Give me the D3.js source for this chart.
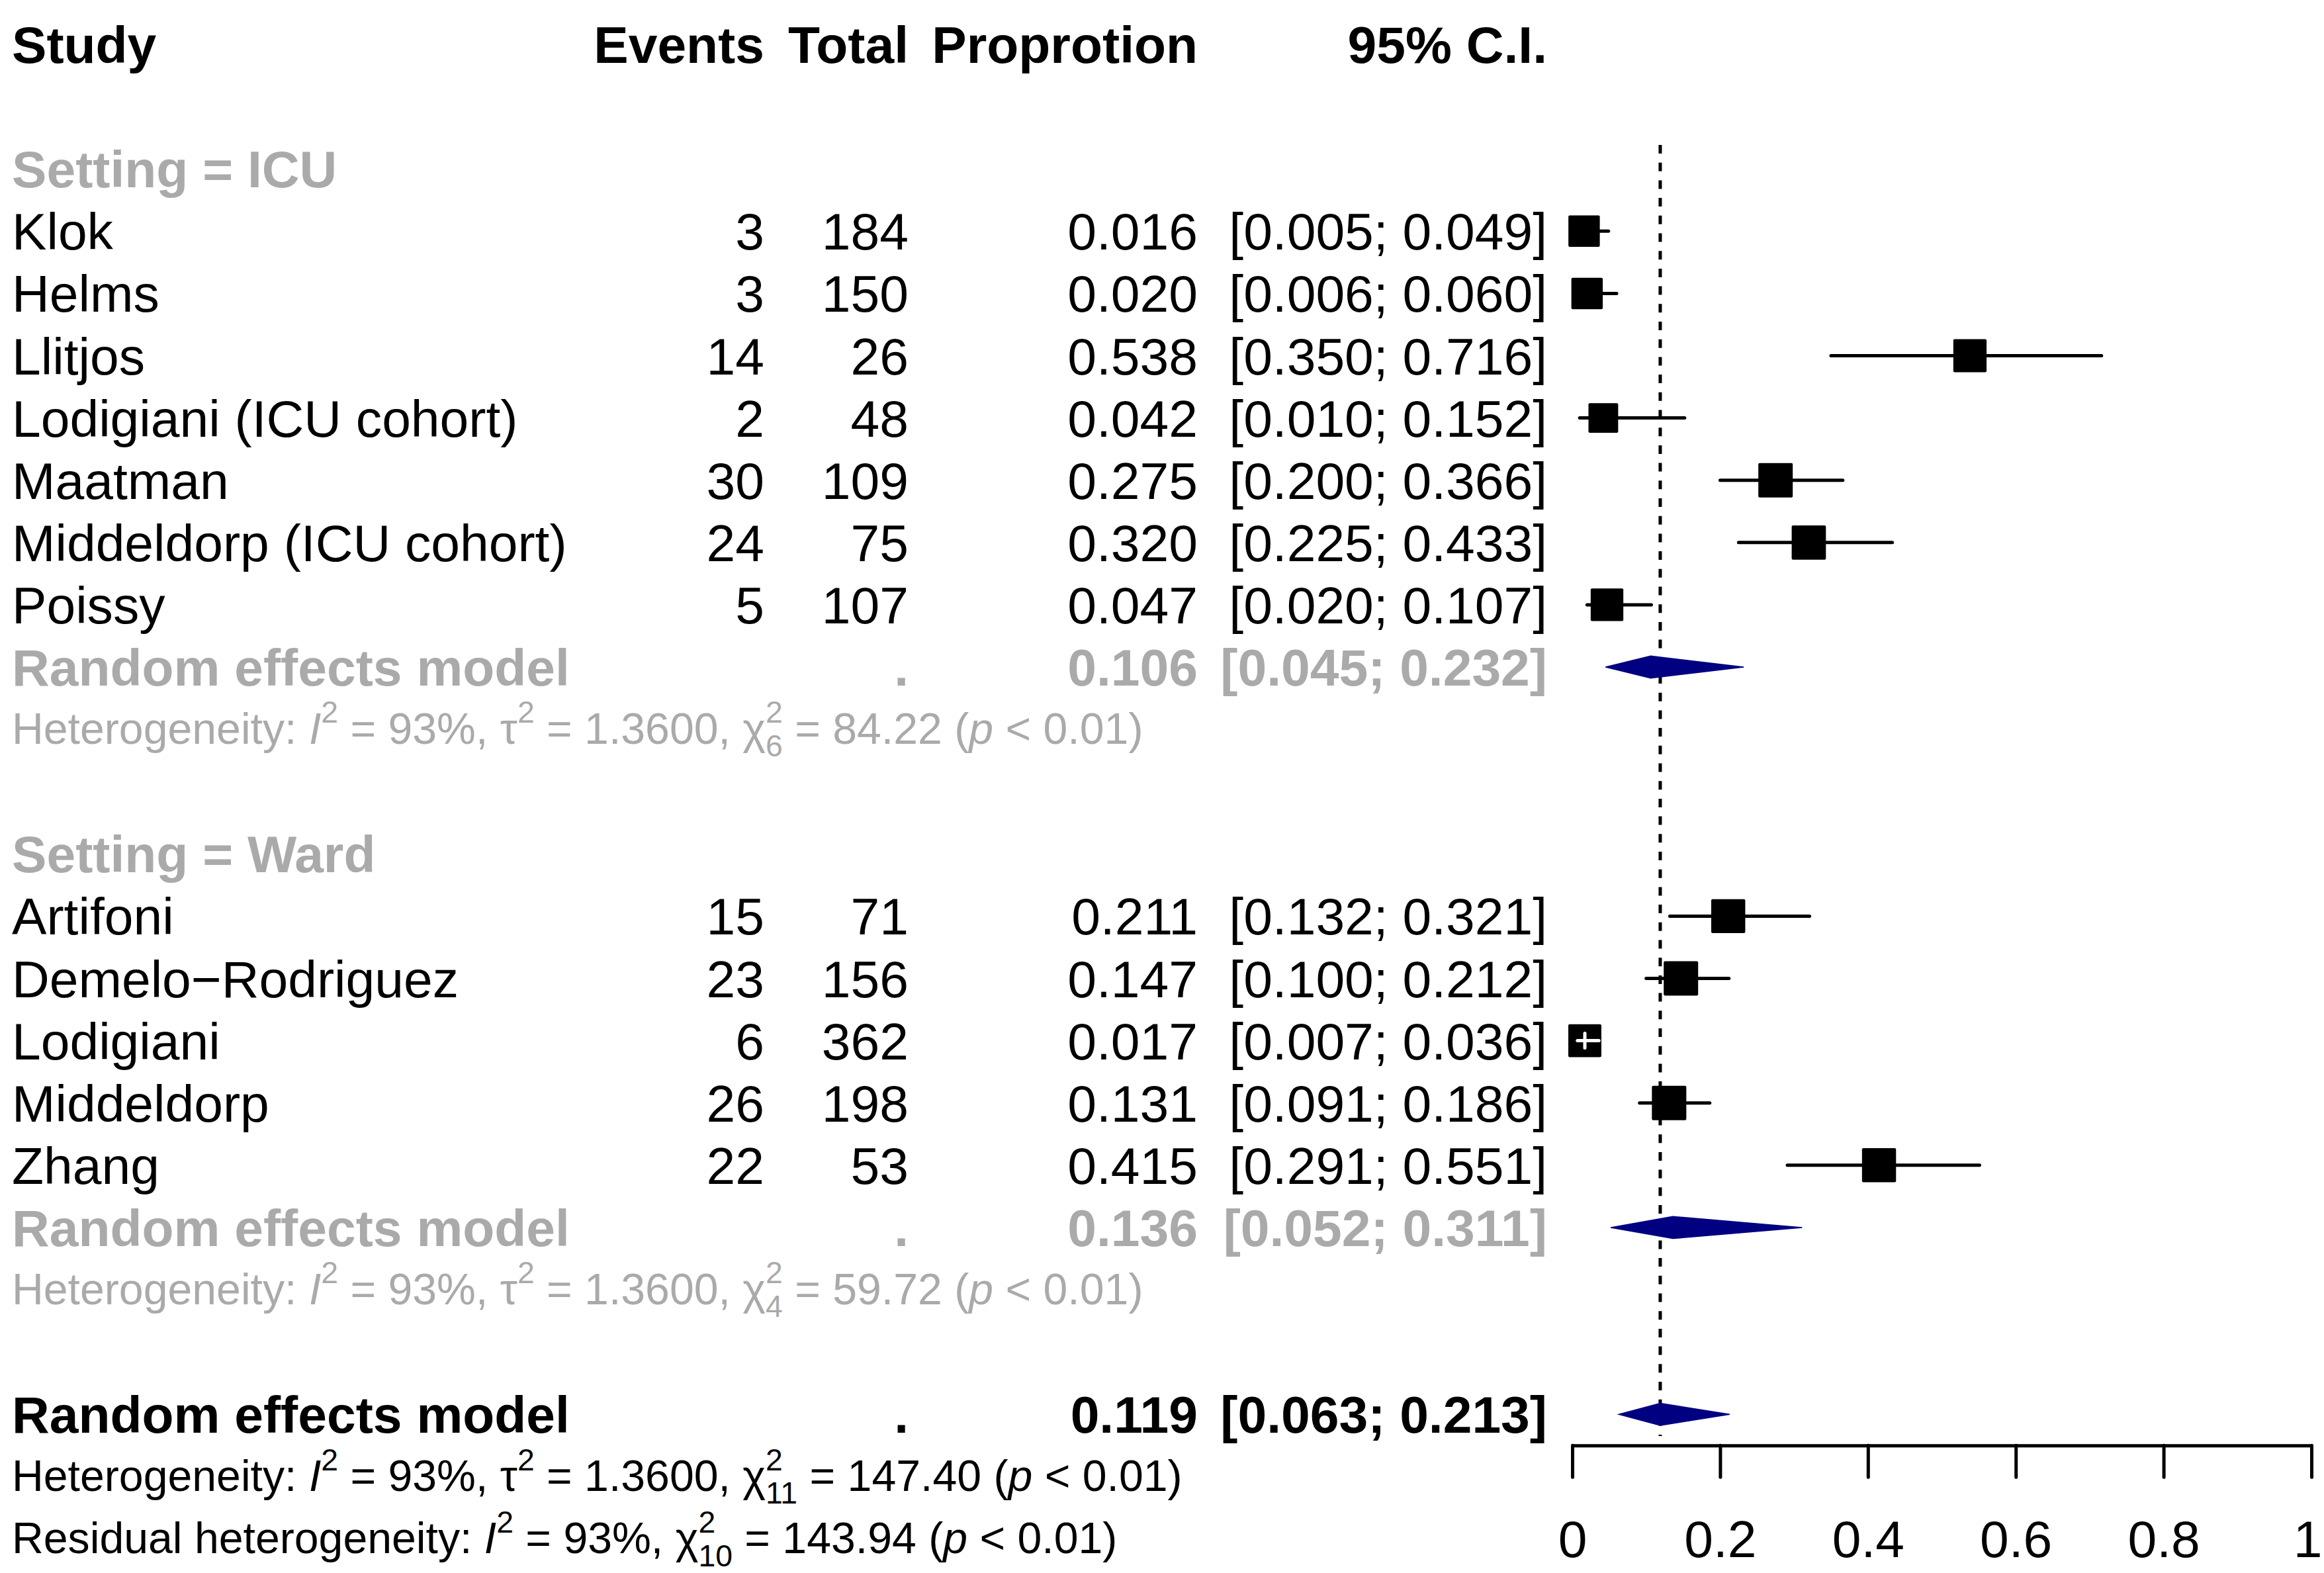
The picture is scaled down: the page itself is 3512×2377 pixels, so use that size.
<!DOCTYPE html>
<html>
<head>
<meta charset="utf-8">
<script src="https://cdn.jsdelivr.net/npm/d3@7"></script>
<style>
  body { margin: 0; background: #fff; }
  svg { display: block; }
  text { font-family: 'Liberation Sans', Arial, Helvetica, sans-serif; white-space: pre; }
</style>
</head>
<body>
<svg id="forest"></svg>
<script>
const width = 3512;
const height = 2377;

// Column headers (typo kept from the original figure).
const headers = ['Study', 'Events', 'Total', 'Proprotion', '95% C.I.'];

// Individual studies
const studies = ['Klok', 'Helms', 'Llitjos', 'Lodigiani (ICU cohort)', 'Maatman', 'Middeldorp (ICU cohort)', 'Poissy',
  'Artifoni', 'Demelo\u2212Rodriguez', 'Lodigiani', 'Middeldorp', 'Zhang'];
const settings = ['ICU', 'ICU', 'ICU', 'ICU', 'ICU', 'ICU', 'ICU', 'Ward', 'Ward', 'Ward', 'Ward', 'Ward'];
const events = [3, 3, 14, 2, 30, 24, 5, 15, 23, 6, 26, 22];
const totals = [184, 150, 26, 48, 109, 75, 107, 71, 156, 362, 198, 53];
const proportions = [0.016, 0.020, 0.538, 0.042, 0.275, 0.320, 0.047, 0.211, 0.147, 0.017, 0.131, 0.415];
const lowers = [0.005, 0.006, 0.350, 0.010, 0.200, 0.225, 0.020, 0.132, 0.100, 0.007, 0.091, 0.291];
const uppers = [0.049, 0.060, 0.716, 0.152, 0.366, 0.433, 0.107, 0.321, 0.212, 0.036, 0.186, 0.551];
// Random effects weights (%), estimated from the square sizes.
const weights = [7.5, 7.5, 8.4, 6.7, 9.0, 8.9, 8.1, 8.8, 9.0, 8.3, 9.0, 8.8];

// Subgroups
const groups = ['ICU', 'Ward'];
const groupEst = [0.106, 0.136];
const groupLower = [0.045, 0.052];
const groupUpper = [0.232, 0.311];
const groupI2 = [93, 93];
const groupTau2 = ['1.3600', '1.3600'];
const groupDf = [6, 4];
const groupQ = ['84.22', '59.72'];

// Overall
const overallCI = [0.119, 0.063, 0.213];
const overallHet = [93, '1.3600', 11, '147.40'];
const residualHet = [93, 10, '143.94'];

const axisTicks = [0, 0.2, 0.4, 0.6, 0.8, 1];

const fontMain = 78.6;
const fontHet = 66.2;
const gray = '#aaaaaa';
const navy = '#000080';
const col = { study: 18, events: 1155, total: 1373, prop: 1810, ci: 2338 };
const f3 = d3.format('.3f');

const y = d3.scaleLinear().domain([0, 24]).range([67, 2325.4]);
const x = d3.scaleLinear().domain([0, 1]).range([2376, 3493]);
const size = d3.scaleSqrt().domain([0, d3.max(weights)]).range([0, 52]);

// Plain text in a column
function label(g, text, xPos, row, anchor, color, bold) {
  return g.append('text')
    .attr('x', xPos)
    .attr('y', y(row) + 28)
    .attr('text-anchor', anchor)
    .attr('font-size', fontMain)
    .attr('font-weight', bold ? 'bold' : 'normal')
    .attr('fill', color)
    .text(text);
}

// Plotmath-like line: [text, kind, text2]
function rich(g, xPos, row, segs, color) {
  const base = y(row) + 22;
  const t = g.append('g').attr('fill', color);
  let cx = xPos;
  segs.forEach(([s, kind, s2]) => {
    if (kind === 'supsub') {
      const a = t.append('text').attr('x', cx).attr('y', base - fontHet * 0.48)
        .attr('font-size', fontHet * 0.7).text(s);
      const b = t.append('text').attr('x', cx).attr('y', base + fontHet * 0.29)
        .attr('font-size', fontHet * 0.7).text(s2);
      cx += Math.max(a.node().getComputedTextLength(), b.node().getComputedTextLength());
    } else {
      const el = t.append('text').attr('x', cx).attr('font-size', fontHet).text(s);
      if (kind === 'sup') {
        el.attr('y', base - fontHet * 0.48).attr('font-size', fontHet * 0.7);
      } else {
        el.attr('y', base);
      }
      if (kind === 'i') el.attr('font-style', 'italic');
      cx += el.node().getComputedTextLength();
    }
  });
}

function hetSegs(prefix, i2, tau2, df, q) {
  const segs = [[prefix + ': ', 'n'], ['I', 'i'], ['2', 'sup'], [` = ${i2}%, `, 'n']];
  if (tau2 !== null) segs.push(['\u03c4', 'n'], ['2', 'sup'], [` = ${tau2}, `, 'n']);
  segs.push(['\u03c7', 'n'], ['2', 'supsub', String(df)], [` = ${q} (`, 'n'], ['p', 'i'], [' < 0.01)', 'n']);
  return segs;
}

const svg = d3.select('#forest').attr('width', width).attr('height', height);
svg.append('rect').attr('width', width).attr('height', height).attr('fill', '#fff');

const gText = svg.append('g');
const gPlot = svg.append('g');

// Header
label(gText, headers[0], col.study, 0, 'start', '#000', true);
label(gText, headers[1], col.events, 0, 'end', '#000', true);
label(gText, headers[2], col.total, 0, 'end', '#000', true);
label(gText, headers[3], col.prop, 0, 'end', '#000', true);
label(gText, headers[4], col.ci, 0, 'end', '#000', true);

// Build row layout
const studyRows = [];
const summaryRows = [];
let row = 2;
groups.forEach((g, gi) => {
  label(gText, `Setting = ${g}`, col.study, row, 'start', gray, true);
  row++;
  studies.forEach((s, i) => {
    if (settings[i] === g) {
      studyRows.push({ i, row });
      row++;
    }
  });
  summaryRows.push({ est: groupEst[gi], lo: groupLower[gi], hi: groupUpper[gi], row, color: gray });
  rich(gText, col.study, row + 1, hetSegs('Heterogeneity', groupI2[gi], groupTau2[gi], groupDf[gi], groupQ[gi]), gray);
  row += 3;
});
summaryRows.push({ est: overallCI[0], lo: overallCI[1], hi: overallCI[2], row, color: '#000' });
rich(gText, col.study, row + 1, hetSegs('Heterogeneity', overallHet[0], overallHet[1], overallHet[2], overallHet[3]), '#000');
rich(gText, col.study, row + 2, hetSegs('Residual heterogeneity', residualHet[0], null, residualHet[1], residualHet[2]), '#000');

// Study text
studyRows.forEach(({ i, row }) => {
  label(gText, studies[i], col.study, row, 'start', '#000', false);
  label(gText, events[i], col.events, row, 'end', '#000', false);
  label(gText, totals[i], col.total, row, 'end', '#000', false);
  label(gText, f3(proportions[i]), col.prop, row, 'end', '#000', false);
  label(gText, `[${f3(lowers[i])}; ${f3(uppers[i])}]`, col.ci, row, 'end', '#000', false);
});

// Summary text
summaryRows.forEach((d) => {
  label(gText, 'Random effects model', col.study, d.row, 'start', d.color, true);
  label(gText, '.', col.total, d.row, 'end', d.color, true);
  label(gText, f3(d.est), col.prop, d.row, 'end', d.color, true);
  label(gText, `[${f3(d.lo)}; ${f3(d.hi)}]`, col.ci, d.row, 'end', d.color, true);
});

// Reference line at overall estimate
gPlot.append('line')
  .attr('x1', x(overallCI[0])).attr('x2', x(overallCI[0]))
  .attr('y1', 219).attr('y2', 2170)
  .attr('stroke', '#000').attr('stroke-width', 5)
  .attr('stroke-dasharray', '13,13.7');

// CI lines and squares
studyRows.forEach(({ i, row }) => {
  const cy = y(row);
  const s = size(weights[i]);
  const cx = x(proportions[i]);
  const inside = x(lowers[i]) >= cx - s / 2 && x(uppers[i]) <= cx + s / 2;
  if (!inside) {
    gPlot.append('line')
      .attr('x1', x(lowers[i])).attr('x2', x(uppers[i]))
      .attr('y1', cy).attr('y2', cy)
      .attr('stroke', '#000').attr('stroke-width', 5).attr('stroke-linecap', 'round');
  }
  gPlot.append('rect')
    .attr('x', cx - s / 2).attr('y', cy - s / 2)
    .attr('width', s).attr('height', s)
    .attr('rx', 2)
    .attr('fill', '#000');
  if (inside) {
    gPlot.append('line')
      .attr('x1', x(lowers[i])).attr('x2', x(uppers[i]))
      .attr('y1', cy).attr('y2', cy)
      .attr('stroke', '#fff').attr('stroke-width', 5).attr('stroke-linecap', 'round');
    gPlot.append('line')
      .attr('x1', cx).attr('x2', cx)
      .attr('y1', cy - 11).attr('y2', cy + 11)
      .attr('stroke', '#fff').attr('stroke-width', 5).attr('stroke-linecap', 'round');
  }
});

// Diamonds
summaryRows.forEach((d) => {
  const cy = y(d.row);
  const h = 16.7;
  gPlot.append('polygon')
    .attr('points', [[x(d.lo), cy], [x(d.est), cy - h], [x(d.hi), cy], [x(d.est), cy + h]].join(' '))
    .attr('fill', navy)
    .attr('stroke', navy)
    .attr('stroke-width', 1.5);
});

// Axis
const gAxis = gPlot.append('g')
  .attr('transform', `translate(0,${y(22.5)})`)
  .call(d3.axisBottom(x).tickValues(axisTicks).tickFormat(d3.format('~g'))
    .tickSize(48).tickSizeOuter(0).tickPadding(65))
  .attr('font-size', fontMain)
  .attr('font-family', "'Liberation Sans', Arial, Helvetica, sans-serif");
gAxis.select('.domain').attr('stroke-width', 5);
gAxis.selectAll('.tick line').attr('stroke-width', 5).attr('stroke-linecap', 'round');
gAxis.selectAll('.tick text').attr('fill', '#000');
// Keep the last label inside the page edge.
gAxis.selectAll('.tick text').filter((d) => d === 1)
  .attr('text-anchor', 'end')
  .attr('x', width - 3 - x(1));
</script>
</body>
</html>
